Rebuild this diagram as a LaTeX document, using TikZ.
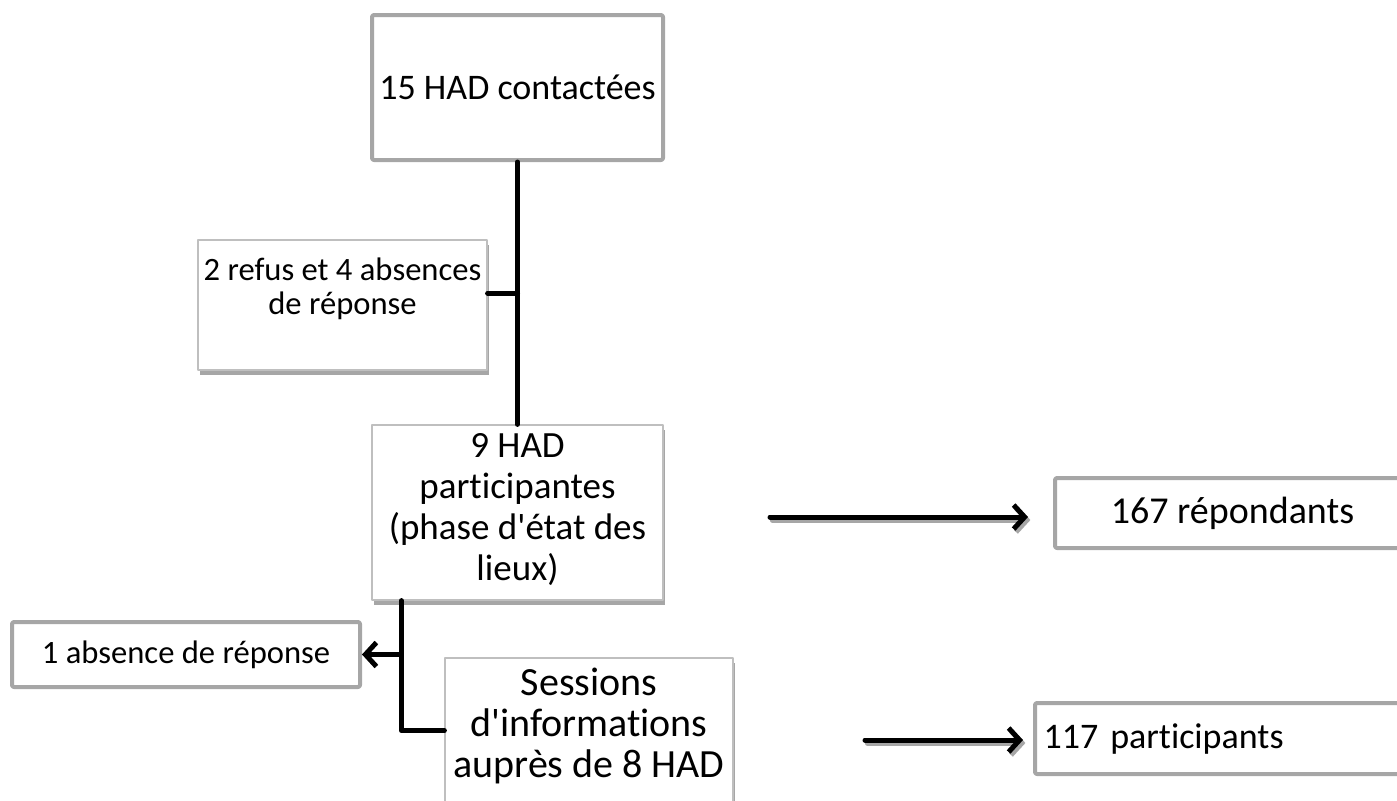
\documentclass[tikz,border=0pt]{standalone}
\usepackage{fontspec}
\setmainfont{Carlito}[Ligatures={CommonOff,TeXOff}]
\usetikzlibrary{arrows.meta,calc,shadows}
\definecolor{boxgray}{HTML}{A6A6A6}
\definecolor{edgegray}{HTML}{BFBFBF}

\begin{document}
\begin{tikzpicture}[x=0.5pt, y=-0.5pt, >={Straight Barb[length=5.5pt,width=12pt]}, line cap=round, line join=round]
\tikzset{
  bigbox/.style={draw=boxgray, line width=2pt, rounded corners=1pt, fill=white, inner sep=0pt, align=center},
  shbox/.style={draw=edgegray, line width=0.6pt, fill=white, inner sep=0pt, align=center,
    drop shadow={shadow xshift=1pt, shadow yshift=-2.5pt, fill=boxgray, opacity=1}},
  big/.style={font=\fontsize{18}{20.5}\selectfont},
  small/.style={font=\fontsize{16.3}{17.2}\selectfont},
  conn/.style={line width=2.5pt},
  arr/.style={->, line width=2.5pt,
    preaction={draw=boxgray, line width=2.5pt, transform canvas={shift={(1.2pt,-1.5pt)}}}},
}
\clip (0,0) rectangle (1397,800);

% main column
\node[bigbox, big, minimum width=145.5pt, minimum height=72.5pt] (had15) at (517.5,87.5) {15 HAD contactées};
\node[shbox, small, minimum width=144.5pt, minimum height=65pt, text depth=19pt] (refus) at (342.5,305)
  {2 refus et 4 absences\\de réponse};
\node[shbox, font=\fontsize{18.5}{20.5}\selectfont, minimum width=145.5pt, minimum height=87.5pt, text depth=5.5pt] (had9) at (517.5,512.5)
  {9 HAD\\participantes\\(phase d'état des\\lieux)};
\node[bigbox, small, minimum width=174pt, minimum height=32.5pt] (absence) at (186,654.5) {1 absence de réponse};
\node[shbox, font=\fontsize{20}{20.5}\selectfont, minimum width=144pt, minimum height=81pt, text depth=16pt] (sessions) at (589,739)
  {Sessions\\d'informations\\auprès de 8 HAD};

% results
\node[bigbox, font=\fontsize{19}{22}\selectfont, minimum width=177.5pt, minimum height=35pt] (resp167) at (1232.5,513) {167 répondants};
\node[bigbox, big, minimum height=35.5pt, text width=179pt, inner xsep=4.25pt, align=left] (part117) at (1222.5,738.5)
  {117 participants};

\draw[conn] (had15) -- (had9);
\coordinate (jref) at ($(had15.south)!0.5!(had9.north)$);
\draw[conn] (jref) -- (jref -| refus.east);

\coordinate (kn) at ([xshift=15pt]had9.south west);
\coordinate (kb) at ([yshift=-65pt]kn);
\draw[conn] (kn) -- (kb) -- (kb -| sessions.west);
\draw[conn, ->] (kn |- absence.east) -- (absence.east);

\coordinate (a1) at (770,517);
\draw[arr, shorten >=12.5pt] (a1) -- (a1 -| resp167.west);
\coordinate (a2) at (865,740);
\draw[arr, shorten >=5pt] (a2) -- (a2 -| part117.west);
\end{tikzpicture}
\end{document}
